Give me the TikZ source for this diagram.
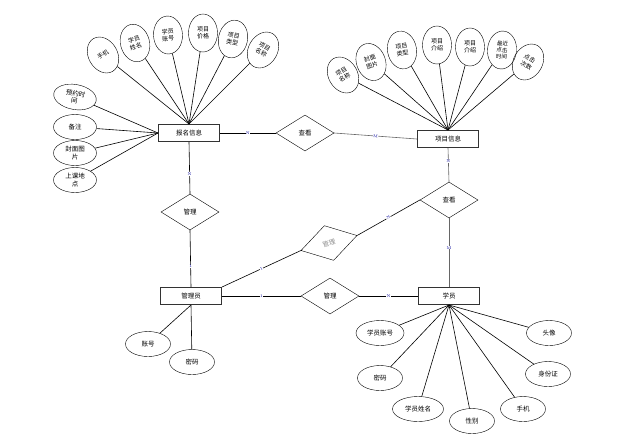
\documentclass[tikz,border=0pt]{standalone}
\usepackage{fontspec}
\newfontfamily\cjk{Noto Sans CJK SC}
\usepackage{tikz}
\usetikzlibrary{shapes.geometric, positioning}

\begin{document}
\begin{tikzpicture}[x=1pt, y=-1pt,
  entity/.style={rectangle, draw=black!80, line width=1pt, minimum width=61pt, minimum height=17pt, inner sep=0pt, font=\cjk\fontsize{6.5}{7}\selectfont},
  relation/.style={diamond, draw, minimum width=58pt, minimum height=36pt, inner sep=0pt, font=\cjk\fontsize{6.5}{7}\selectfont},
  attr/.style={ellipse, draw, minimum width=45pt, minimum height=25pt, inner sep=0pt, align=center, font=\cjk\fontsize{6.5}{7.5}\selectfont},
  tallattr/.style={ellipse, draw, minimum width=29pt, minimum height=38pt, inner sep=0pt, align=center, font=\cjk\fontsize{6}{7}\selectfont},
  line/.style={draw, line width=0.6pt},
  lbl/.style={fill=white, inner sep=0.3pt, font=\fontsize{4}{4}\selectfont, text=blue!60!black}
]
  \useasboundingbox (0,0) rectangle (628,440);

  % entities
  \node[entity] (bm)  at (189,133) {报名信息};
  \node[entity] (xm)  at (448,139) {项目信息};
  \node[entity] (gly) at (191,296) {管理员};
  \node[entity] (xy)  at (449,296) {学员};

  % relations
  \node[relation] (ck1) at (305,133) {查看};
  \node[relation] (ck2) at (449,200) {查看};
  \node[relation] (gl1) at (190,212) {管理};
  \node[relation, rotate=15, text=black!45] (gl2) at (329,243) {管理};
  \node[relation] (gl3) at (330,296) {管理};

  % attributes of 报名信息
  \node[tallattr, rotate=30]  (b1) at (103,55) {手机};
  \node[tallattr, rotate=15]  (b2) at (135,43) {学员\\姓名};
  \node[tallattr, rotate=3]   (b3) at (168,35) {学员\\账号};
  \node[tallattr]             (b4) at (203,33) {项目\\价格};
  \node[tallattr, rotate=-12] (b5) at (233,39) {项目\\类型};
  \node[tallattr, rotate=-30] (b6) at (263,50) {项目\\名称};
  \node[attr, minimum width=43pt, rotate=-10] (b7) at (75,97) {预约时\\间};
  \node[attr, minimum width=43pt] (b8)  at (75,127) {备注};
  \node[attr, minimum width=43pt] (b9)  at (75,153) {封面图\\片};
  \node[attr, minimum width=43pt] (b10) at (75,180) {上课地\\点};

  % attributes of 项目信息
  \node[tallattr, rotate=30]  (x1) at (343,75) {项目\\名称};
  \node[tallattr, rotate=20]  (x2) at (371,62) {封面\\图片};
  \node[tallattr, rotate=10]  (x3) at (402,50) {项目\\类型};
  \node[tallattr]             (x4) at (437,45) {项目\\介绍};
  \node[tallattr]             (x5) at (470,47) {项目\\介绍};
  \node[tallattr, rotate=-5, font=\cjk\fontsize{5.5}{6.5}\selectfont] (x6) at (502,50) {最近\\点击\\时间};
  \node[tallattr, rotate=-30] (x7) at (528,62) {点击\\次数};

  % attributes of 学员
  \node[attr, minimum width=48pt] (s1) at (380,333) {学员账号};
  \node[attr] (s2) at (380,378) {密码};
  \node[attr, minimum width=51pt] (s3) at (418,409) {学员姓名};
  \node[attr] (s4) at (472,421) {性别};
  \node[attr] (s5) at (523,409) {手机};
  \node[attr] (s6) at (548,374) {身份证};
  \node[attr] (s7) at (549,333) {头像};

  % attributes of 管理员
  \node[attr] (g1) at (148,344) {账号};
  \node[attr] (g2) at (192,362) {密码};

  % attribute lines
  \foreach \a in {b1,b2,b3,b4,b5,b6} \path[line] (\a) -- (bm.north);
  \foreach \a in {b7,b8,b9,b10} \path[line] (\a) -- (bm.west);
  \foreach \a in {x1,x2,x3,x4,x5,x6,x7} \path[line] (\a) -- (xm.north);
  \foreach \a in {s1,s2,s3,s4,s5,s6,s7} \path[line] (\a) -- (xy.south);
  \foreach \a in {g1,g2} \path[line] (\a) -- (gly.south);

  % relationship lines
  \path[line] (bm.east) -- node[lbl] {N} (ck1.west);
  \path[line, draw=black!60] (ck1.east) -- node[lbl, sloped] {M} (xm.west);
  \path[line] (bm.south) -- node[lbl, pos=0.62] {N} (gl1.north);
  \path[line] (gl1.south) -- node[lbl, pos=0.64] {1} (gly.north);
  \path[line, draw=black!60] (xm.south) -- node[lbl, pos=0.4] {N} (ck2.north);
  \path[line, draw=black!60] (ck2.south) -- node[lbl, pos=0.43] {M} (xy.north);
  \path[line] (gly.north east) -- node[lbl, sloped] {1} (gl2.west);
  \path[line] (gl2.east) -- node[lbl, sloped] {N} (ck2.west);
  \path[line] (gly.east) -- node[lbl] {1} (gl3.west);
  \path[line] (gl3.east) -- node[lbl] {N} (xy.west);
\end{tikzpicture}
\end{document}
